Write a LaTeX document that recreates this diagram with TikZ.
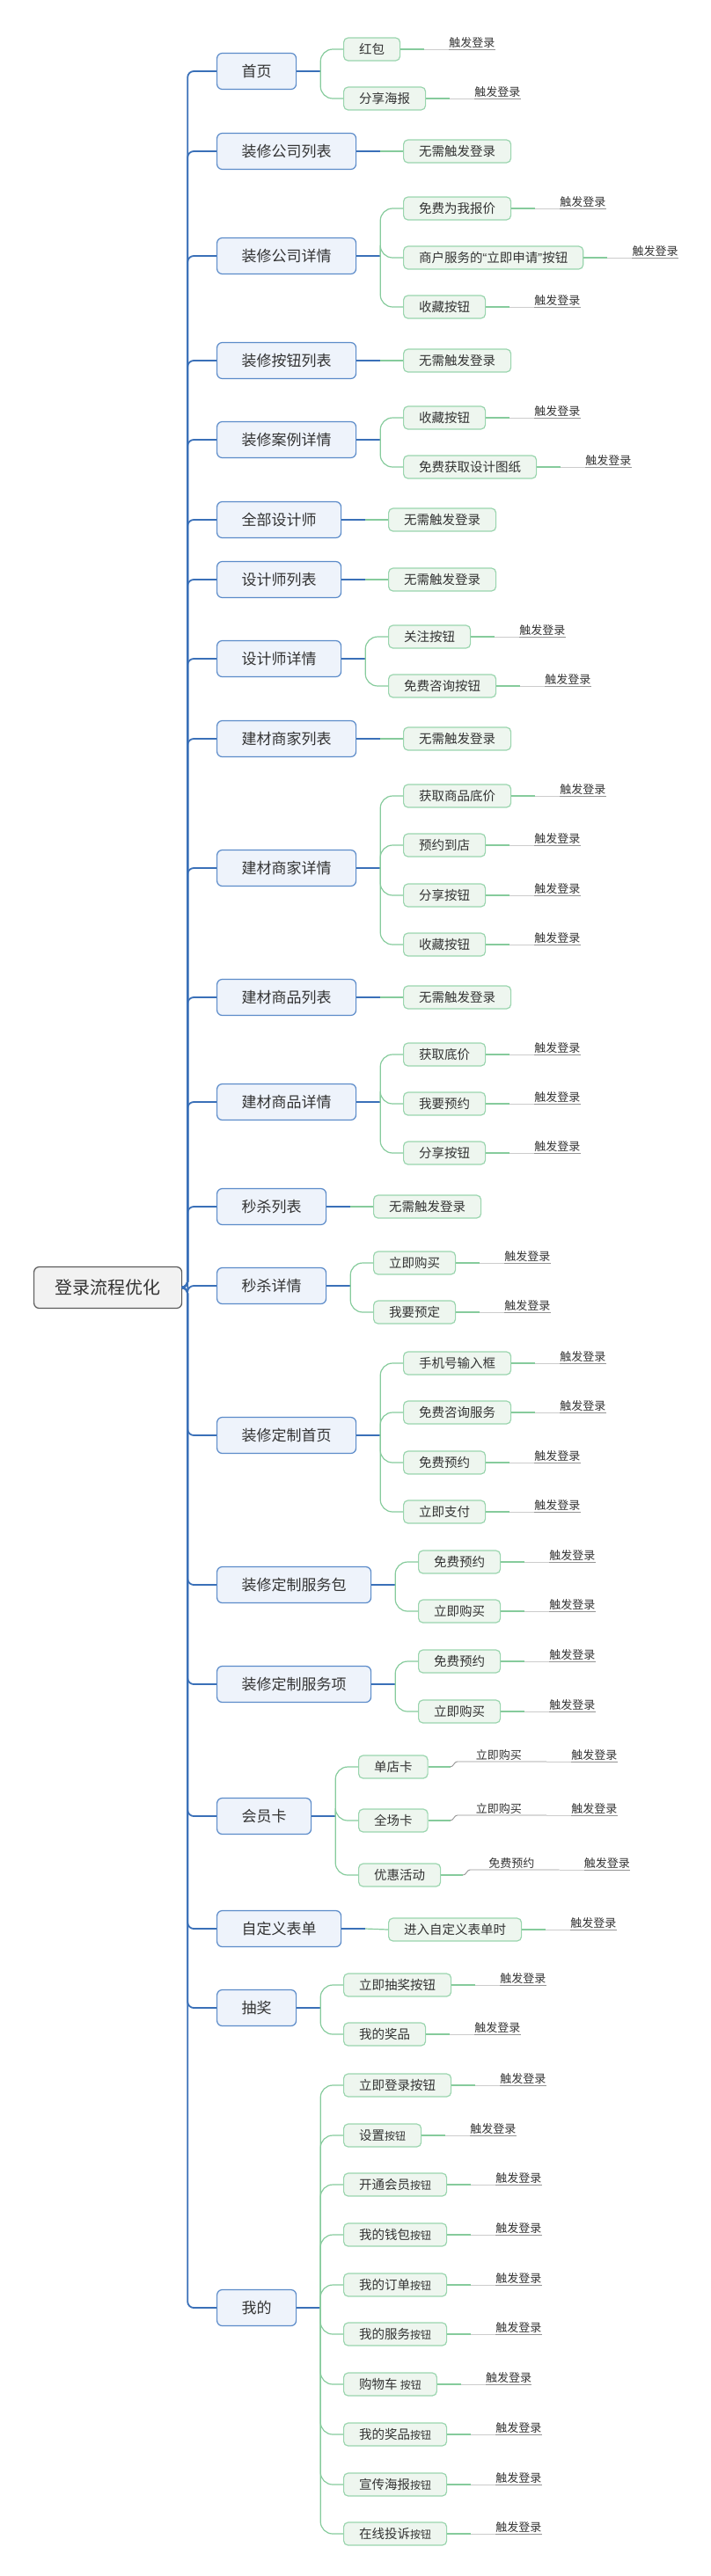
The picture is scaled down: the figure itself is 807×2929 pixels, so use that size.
\documentclass[tikz,border=0pt]{standalone}
\usepackage{fontspec}
\setmainfont{Noto Sans CJK SC}
\newfontfamily\latinq{Liberation Sans}
\usetikzlibrary{calc}

\definecolor{txt}{HTML}{333333}
\definecolor{rootfill}{HTML}{F2F2F2}
\definecolor{rootgray}{HTML}{5A5A5A}
\definecolor{parfill}{HTML}{EEF3FB}
\definecolor{parblue}{HTML}{5B8BC9}
\definecolor{trunkblue}{HTML}{3A70B8}
\definecolor{chifill}{HTML}{EEF6EF}
\definecolor{chigreen}{HTML}{9AD5AE}
\definecolor{linegreen}{HTML}{86CB9C}

% smaller 按钮 as in the 我的 branch
\newcommand{\sbtn}{{\fontsize{12}{14}\selectfont 按钮}}

\begin{document}
\begin{tikzpicture}
[x=1pt,y=-1pt,
 rootbox/.style={draw=rootgray,fill=rootfill,text=txt,rounded corners=6pt,line width=1.2pt,inner xsep=24pt,minimum height=47pt,anchor=west,font=\fontsize{20}{24}\selectfont},
 parbox/.style={draw=parblue,fill=parfill,text=txt,rounded corners=6pt,line width=1.2pt,inner xsep=28pt,minimum height=41pt,anchor=west,font=\fontsize{17}{20}\selectfont},
 chibox/.style={draw=chigreen,fill=chifill,text=txt,rounded corners=5pt,line width=1.2pt,inner xsep=17.5pt,minimum height=26pt,anchor=west,font=\fontsize{14.5}{17}\selectfont},
 lbltext/.style={text=txt,inner xsep=0pt,inner ysep=1pt,anchor=south west,font=\fontsize{13}{15}\selectfont},
 trunkline/.style={draw=trunkblue,line width=1.8pt,rounded corners=7pt},
 pline/.style={draw=trunkblue,line width=1.2pt},
 cline/.style={draw=linegreen,line width=1.2pt,rounded corners=14pt},
 ulin/.style={draw=gray!85,line width=0.9pt},
 ulinlt/.style={draw=gray!40,line width=0.9pt}]

\useasboundingbox (0,0) rectangle (807,2929);

\node[rootbox] (main) at (38,1464) {登录流程优化};

\node[parbox] (pa) at (246,81) {首页};
\node[parbox] (pb) at (246,172) {装修公司列表};
\node[parbox] (pc) at (246,291) {装修公司详情};
\node[parbox] (pd) at (246,410) {装修按钮列表};
\node[parbox] (pe) at (246,500) {装修案例详情};
\node[parbox] (pf) at (246,591) {全部设计师};
\node[parbox] (pg) at (246,659) {设计师列表};
\node[parbox] (ph) at (246,749) {设计师详情};
\node[parbox] (pi) at (246,840) {建材商家列表};
\node[parbox] (pj) at (246,987) {建材商家详情};
\node[parbox] (pk) at (246,1134) {建材商品列表};
\node[parbox] (pl) at (246,1253) {建材商品详情};
\node[parbox] (pm) at (246,1372) {秒杀列表};
\node[parbox] (pn) at (246,1462) {秒杀详情};
\node[parbox] (po) at (246,1632) {装修定制首页};
\node[parbox] (pp) at (246,1802) {装修定制服务包};
\node[parbox] (pq) at (246,1915) {装修定制服务项};
\node[parbox] (pr) at (246,2065) {会员卡};
\node[parbox] (ps) at (246,2193) {自定义表单};
\node[parbox] (pt) at (246,2283) {抽奖};
\node[parbox] (pu) at (246,2624) {我的};

\node[chibox] (a1) at (390,56) {红包};
\node[chibox] (a2) at (390,112) {分享海报};
\node[chibox] (b1) at (458,172) {无需触发登录};
\node[chibox] (c1) at (458,237) {免费为我报价};
\node[chibox] (c2) at (458,293) {商户服务的{\latinq “}立即申请{\latinq ”}按钮};
\node[chibox] (c3) at (458,349) {收藏按钮};
\node[chibox] (d1) at (458,410) {无需触发登录};
\node[chibox] (e1) at (458,475) {收藏按钮};
\node[chibox] (e2) at (458,531) {免费获取设计图纸};
\node[chibox] (f1) at (441,591) {无需触发登录};
\node[chibox] (g1) at (441,659) {无需触发登录};
\node[chibox] (h1) at (441,724) {关注按钮};
\node[chibox] (h2) at (441,780) {免费咨询按钮};
\node[chibox] (i1) at (458,840) {无需触发登录};
\node[chibox] (j1) at (458,905) {获取商品底价};
\node[chibox] (j2) at (458,961) {预约到店};
\node[chibox] (j3) at (458,1018) {分享按钮};
\node[chibox] (j4) at (458,1074) {收藏按钮};
\node[chibox] (k1) at (458,1134) {无需触发登录};
\node[chibox] (l1) at (458,1199) {获取底价};
\node[chibox] (l2) at (458,1255) {我要预约};
\node[chibox] (l3) at (458,1311) {分享按钮};
\node[chibox] (m1) at (424,1372) {无需触发登录};
\node[chibox] (n1) at (424,1436) {立即购买};
\node[chibox] (n2) at (424,1492) {我要预定};
\node[chibox] (o1) at (458,1550) {手机号输入框};
\node[chibox] (o2) at (458,1606) {免费咨询服务};
\node[chibox] (o3) at (458,1663) {免费预约};
\node[chibox] (o4) at (458,1719) {立即支付};
\node[chibox] (p1) at (475,1776) {免费预约};
\node[chibox] (p2) at (475,1832) {立即购买};
\node[chibox] (q1) at (475,1889) {免费预约};
\node[chibox] (q2) at (475,1946) {立即购买};
\node[chibox] (r1) at (407,2009) {单店卡};
\node[chibox] (r2) at (407,2070) {全场卡};
\node[chibox] (r3) at (407,2132) {优惠活动};
\node[chibox] (s1) at (441,2194) {进入自定义表单时};
\node[chibox] (t1) at (390,2257) {立即抽奖按钮};
\node[chibox] (t2) at (390,2313) {我的奖品};
\node[chibox] (u1) at (390,2371) {立即登录按钮};
\node[chibox] (u2) at (390,2428) {设置\sbtn};
\node[chibox] (u3) at (390,2484) {开通会员\sbtn};
\node[chibox] (u4) at (390,2541) {我的钱包\sbtn};
\node[chibox] (u5) at (390,2598) {我的订单\sbtn};
\node[chibox] (u6) at (390,2654) {我的服务\sbtn};
\node[chibox] (u7) at (390,2711) {购物车 \sbtn};
\node[chibox] (u8) at (390,2768) {我的奖品\sbtn};
\node[chibox] (u9) at (390,2825) {宣传海报\sbtn};
\node[chibox] (u10) at (390,2881) {在线投诉\sbtn};

%trunk
\foreach \to in {pa,pb,pc,pd,pe,pf,pg,ph,pi,pj,pk,pl,pm,pn,po,pp,pq,pr,ps,pt,pu}
\draw [trunkline] (main.east) -- ++(6,0) |- (\to.west);

\foreach \from in {pa,pb,pc,pd,pe,pf,pg,ph,pi,pj,pk,pl,pm,pn,po,pp,pq,pr,ps,pt,pu}
\draw [pline] (\from.east) -- ++(27,0);

\foreach \from/\to in {pb/b1,pd/d1,pf/f1,pg/g1,pi/i1,pk/k1,pm/m1,ps/s1}
\draw [cline] (\from.east) ++(27,0) -- (\to.west);

\foreach \from/\to in {pa/a1,pa/a2,pc/c1,pc/c2,pc/c3,pe/e1,pe/e2,ph/h1,ph/h2,pj/j1,pj/j2,pj/j3,pj/j4,pl/l1,pl/l2,pl/l3,pn/n1,pn/n2,po/o1,po/o2,po/o3,po/o4,pp/p1,pp/p2,pq/q1,pq/q2,pr/r1,pr/r2,pr/r3,pt/t1,pt/t2,pu/u1,pu/u2,pu/u3,pu/u4,pu/u5,pu/u6,pu/u7,pu/u8,pu/u9,pu/u10}
\draw [cline] (\from.east) ++(27,0) |- (\to.west);

%labels
\foreach \c in {a1,a2,c1,c2,c3,e1,e2,h1,h2,j1,j2,j3,j4,l1,l2,l3,n1,n2,o1,o2,o3,o4,p1,p2,q1,q2,s1,t1,t2,u1,u2,u3,u4,u5,u6,u7,u8,u9,u10}{
\node[lbltext, xshift=55pt] (l\c) at (\c.east) {触发登录};
\draw [cline] (\c.east) -- ++(27,0);
\draw [ulinlt] (\c.east) ++(27,0) -- (l\c.south west);
\draw [ulin] (l\c.south west) -- (l\c.south east);
}

\foreach \c/\t in {r1/立即购买,r2/立即购买,r3/免费预约}{
\node[lbltext, xshift=54pt, yshift=6pt] (m\c) at (\c.east) {\t};
\node[lbltext, xshift=56pt] (l\c) at (m\c.south east) {触发登录};
\draw [cline] (\c.east) -- ++(25,0);
\draw [ulin] (\c.east) ++(25,0) to[out=0,in=180] ++(8,-6) -- ($(m\c.south east)+(28,0)$);
\draw [ulinlt] ($(m\c.south east)+(28,0)$) -- (l\c.south west);
\draw [ulin] (l\c.south west) -- (l\c.south east);
}

\end{tikzpicture}
\end{document}
